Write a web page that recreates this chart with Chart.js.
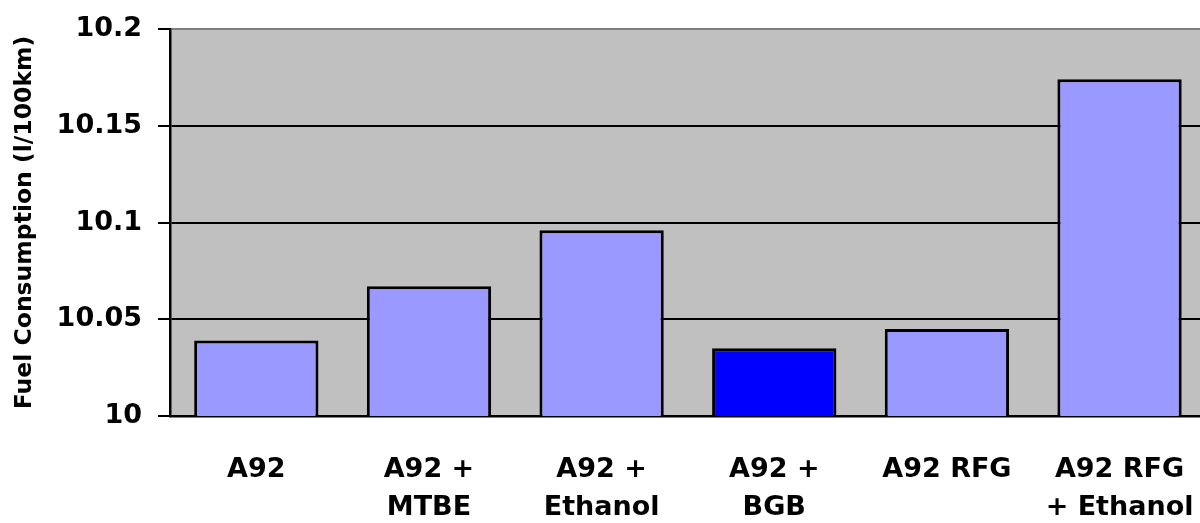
<!DOCTYPE html>
<html>
<head>
<meta charset="utf-8">
<script src="https://cdn.jsdelivr.net/npm/chart.js@4"></script>
<style>
  html, body { margin: 0; padding: 0; background: #ffffff; overflow: hidden; }
  #wrap { width: 1200px; height: 523px; overflow: hidden; }
</style>
</head>
<body>
<div id="wrap"><canvas id="chart" width="1230" height="523"></canvas></div>
<script>
// Fuel blends compared
const categories = [
  ["A92"],
  ["A92 +", "MTBE"],
  ["A92 +", "Ethanol"],
  ["A92 +", "BGB"],
  ["A92 RFG"],
  ["A92 RFG", "+ Ethanol"]
];
const consumption = [10.039, 10.067, 10.096, 10.035, 10.045, 10.174];
const barColors = ["#9999FF", "#9999FF", "#9999FF", "#0000FF", "#9999FF", "#9999FF"];
const yTicks = [10, 10.05, 10.1, 10.15, 10.2];
const yTitle = "Fuel Consumption (l/100km)";

const FONT = "'DejaVu Sans', 'Liberation Sans', Arial, sans-serif";

// grey plot background behind grid and bars
const plotBackground = {
  id: "plotBackground",
  beforeDraw(chart) {
    const { ctx, chartArea: a } = chart;
    ctx.save();
    ctx.fillStyle = "#C0C0C0";
    ctx.fillRect(a.left, a.top, a.right - a.left, a.bottom - a.top);
    ctx.restore();
  }
};

new Chart(document.getElementById("chart"), {
  type: "bar",
  data: {
    labels: categories,
    datasets: [{
      data: consumption,
      backgroundColor: barColors,
      borderColor: "#000000",
      borderWidth: 3,
      barPercentage: 0.72,
      categoryPercentage: 1.0
    }]
  },
  options: {
    responsive: false,
    animation: false,
    devicePixelRatio: 1,
    layout: { padding: { left: 0, top: 29, right: 18.4, bottom: 0 } },
    plugins: {
      legend: { display: false },
      tooltip: { enabled: false }
    },
    scales: {
      x: {
        grid: { display: false, drawTicks: false },
        border: { display: true, color: "#000000", width: 2.5 },
        ticks: {
          color: "#000000",
          font: { family: FONT, size: 27, weight: "bold", lineHeight: 38 / 27 },
          padding: 35,
          maxRotation: 0,
          autoSkip: false
        },
        afterFit(scale) { scale.height = 107; }
      },
      y: {
        min: yTicks[0],
        max: yTicks[yTicks.length - 1],
        afterBuildTicks(scale) {
          scale.ticks = yTicks.map(v => ({ value: v }));
        },
        grid: {
          color: ctx => (ctx.index === yTicks.length - 1 ? "#808080" : "#000000"),
          tickColor: "#000000",
          lineWidth: 2,
          tickLength: 12,
          drawTicks: true
        },
        border: { display: true, color: "#000000", width: 2.5 },
        ticks: {
          color: "#000000",
          font: { family: FONT, size: 27, weight: "bold", lineHeight: 0.9 },
          padding: 16,
          callback: v => String(Math.round(v * 100) / 100)
        },
        title: {
          display: true,
          text: yTitle,
          color: "#000000",
          font: { family: FONT, size: 23.5, weight: "bold", lineHeight: 1.2 },
          padding: { top: 11, bottom: 0 }
        },
        afterFit(scale) { scale.width = 170; }
      }
    }
  },
  plugins: [plotBackground]
});
</script>
</body>
</html>
